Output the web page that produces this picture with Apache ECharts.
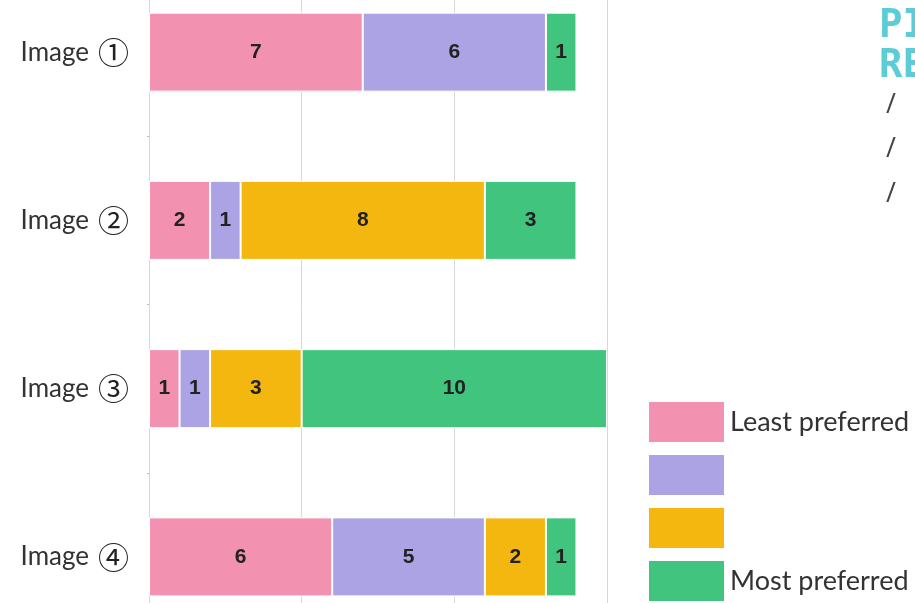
<!DOCTYPE html>
<html>
<head>
<meta charset="utf-8">
<script src="https://cdn.jsdelivr.net/npm/echarts@6/dist/echarts.min.js"></script>
<style>
  html, body { margin: 0; padding: 0; background: #fff; overflow: hidden; }
  /* the bands are cut at the top and bottom of the picture, so the chart box runs past the window */
  #chart { position: absolute; left: 0; top: -32px; width: 915px; height: 674px; }
</style>
</head>
<body>
<div id="chart"></div>
<script>
// categories, top to bottom
const images = ['Image', 'Image', 'Image', 'Image']
const circled = ['①', '②', '③', '④']
// votes per rank (least -> most preferred)
const rank1 = [7, 2, 1, 6]
const rank2 = [6, 1, 1, 5]
const rank3 = [0, 8, 3, 2]
const rank4 = [1, 3, 10, 1]
const rankNames = ['Least preferred', 'Rank 2', 'Rank 3', 'Most preferred']
const rankColors = ['#f391b1', '#aba3e4', '#f3b70f', '#40c47e']
const xTicks = [0, 5, 10, 15]

const OFFSET = 32  // div sits 32px above the window

const chart = echarts.init(document.getElementById('chart'))

const makeSeries = (name, data, color) => ({
    name: name,
    type: 'bar',
    stack: 'votes',
    data: data,
    barWidth: 79,
    itemStyle: { color: color, borderColor: '#fff', borderWidth: 1 },
    label: {
        show: true,
        position: 'inside',
        color: '#222',
        fontFamily: 'Liberation Sans',
        fontWeight: 'bold',
        fontSize: 21,
        formatter: (p) => p.value ? String(p.value) : ''
    }
})

chart.setOption({
    animation: false,
    grid: { left: 149, right: 308, top: 0, bottom: 1 },
    xAxis: {
        type: 'value',
        min: xTicks[0],
        max: xTicks[xTicks.length - 1],
        interval: 5,
        axisLabel: { show: false },
        axisLine: { show: false },
        axisTick: { show: false },
        splitLine: { show: true, lineStyle: { color: '#d9d9d9', width: 1 } }
    },
    yAxis: {
        type: 'category',
        inverse: true,
        data: images.map((t, i) => t + ' ' + circled[i]),
        axisLine: { show: false },
        axisTick: { show: true, length: 2, lineStyle: { color: '#bbb' } },
        axisLabel: {
            margin: 20,
            formatter: (v) => {
                const parts = v.split(' ')
                return '{t|' + parts[0] + '}{c|' + parts[1] + '}'
            },
            rich: {
                t: { color: '#333', fontFamily: 'Lato', fontSize: 26 },
                c: { color: '#222', fontFamily: 'Noto Sans CJK JP', fontSize: 31, padding: [0, 0, 0, 9] }
            }
        }
    },
    legend: {
        orient: 'vertical',
        left: 647,
        top: 400 + OFFSET,
        padding: 0,
        itemWidth: 77,
        itemHeight: 42,
        itemGap: 9,
        icon: 'rect',
        selectedMode: false,
        data: rankNames,
        formatter: (name) => (name === rankNames[0] || name === rankNames[3]) ? name : '',
        textStyle: { color: '#333', fontFamily: 'Lato', fontSize: 27, lineHeight: 30 }
    },
    series: [
        makeSeries(rankNames[0], rank1, rankColors[0]),
        makeSeries(rankNames[1], rank2, rankColors[1]),
        makeSeries(rankNames[2], rank3, rankColors[2]),
        makeSeries(rankNames[3], rank4, rankColors[3])
    ],
    graphic: [
        { type: 'text', left: 879, top: 7 + OFFSET, style: { text: 'PI', fill: '#5ccdd6', font: 'bold 39px "DejaVu Sans Mono"' } },
        { type: 'text', left: 879, top: 47 + OFFSET, style: { text: 'RE', fill: '#5ccdd6', font: 'bold 39px "DejaVu Sans Mono"' } },
        { type: 'text', left: 886, top: 92 + OFFSET, style: { text: '/', fill: '#444', font: '27px "Open Sans"' } },
        { type: 'text', left: 886, top: 136 + OFFSET, style: { text: '/', fill: '#444', font: '27px "Open Sans"' } },
        { type: 'text', left: 886, top: 181 + OFFSET, style: { text: '/', fill: '#444', font: '27px "Open Sans"' } }
    ]
})
</script>
</body>
</html>
